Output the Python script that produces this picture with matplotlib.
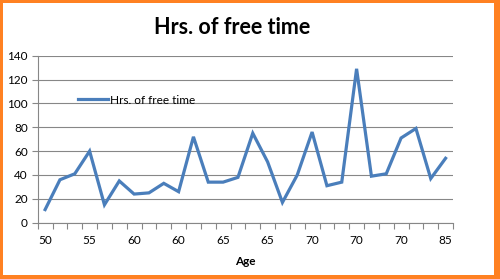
import matplotlib
matplotlib.use("Agg")
import matplotlib.pyplot as plt
from matplotlib.patches import Rectangle
from matplotlib.ticker import FixedLocator, NullFormatter

plt.rcParams["font.family"] = ["Lato", "DejaVu Sans"]

# ages per row (only every third one is shown as a label)
ages = [50, 52, 53, 55, 57, 58, 60, 61, 62, 60, 61, 63, 65, 66,
        67, 65, 67, 68, 70, 71, 72, 70, 71, 73, 70, 75, 80, 85]
hours = [11, 36, 41, 60, 15, 35, 24, 25, 33, 26, 72, 34, 34, 38,
         75, 51, 17, 40, 76, 31, 34, 129, 39, 41, 71, 79, 37, 54]
series_name = "Hrs. of free time"
yticks = [0, 20, 40, 60, 80, 100, 120, 140]

blue = "#4A7EBB"
grid_gray = "#878787"

fig = plt.figure(figsize=(5, 2.79), dpi=100, facecolor="#FF8122")
fig.patches.append(Rectangle((3 / 500, 4 / 279), 491 / 500, 272 / 279,
                             transform=fig.transFigure, facecolor="white",
                             edgecolor="none", zorder=-10))

ax = fig.add_axes([0.0754, 0.2018, 0.8306, 0.5986])
ax.set_facecolor("none")
x = list(range(len(hours)))
ax.plot(x, hours, color=blue, lw=2.3, label=series_name, zorder=3,
        solid_joinstyle="miter")

ax.set_xlim(-0.5, len(hours) - 0.5)
ax.set_ylim(0, 140)
ax.set_yticks(yticks)
ax.yaxis.grid(True, color=grid_gray, lw=0.8)
ax.set_axisbelow(True)

# category labels every third point, tick marks between categories
ax.set_xticks(x[::3])
ax.set_xticklabels([str(a) for a in ages[::3]])
ax.xaxis.set_minor_locator(FixedLocator([i - 0.5 for i in range(len(hours) + 1)]))
ax.xaxis.set_minor_formatter(NullFormatter())
ax.tick_params(axis="x", which="major", length=0, pad=9, labelsize=8.5)
ax.tick_params(axis="x", which="minor", length=4, color=grid_gray, width=0.8)
ax.tick_params(axis="y", length=4, color=grid_gray, width=0.8, labelsize=8.5, pad=3)

for side in ("top", "right"):
    ax.spines[side].set_visible(False)
for side in ("left", "bottom"):
    ax.spines[side].set_color(grid_gray)
    ax.spines[side].set_linewidth(0.8)

ax.set_xlabel("Age", fontweight="bold", fontsize=8.5)
ax.xaxis.set_label_coords(0.5, -0.2)
fig.suptitle(series_name, fontweight="bold", fontsize=15.5, x=0.464, y=0.94)

ax.legend(loc="center left", bbox_to_anchor=(0.085, 0.734), frameon=False,
          handlelength=2.6, handletextpad=0.1, fontsize=8.5, borderaxespad=0)

fig.savefig("out.png", dpi=100, facecolor=fig.get_facecolor())
